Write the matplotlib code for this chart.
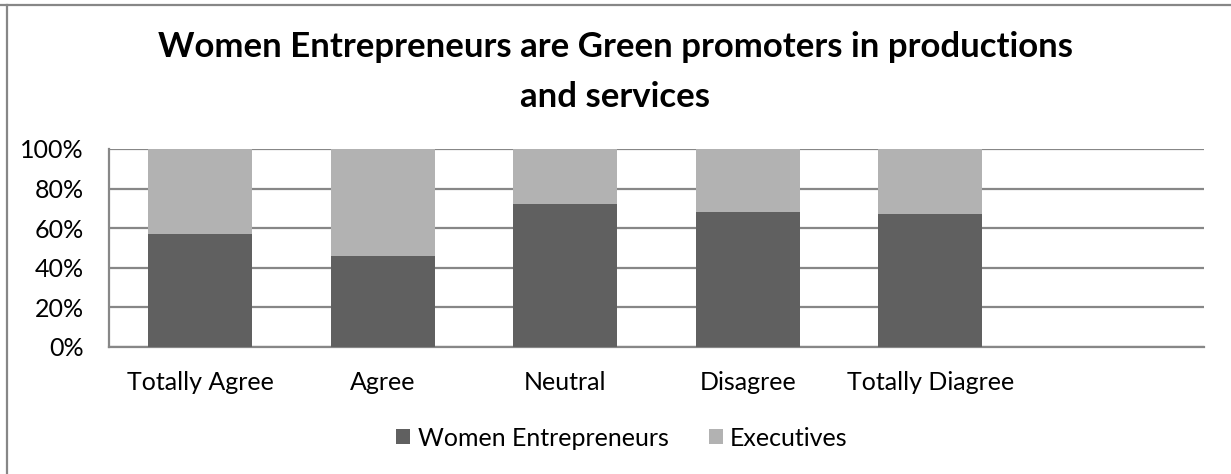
import matplotlib
matplotlib.use("Agg")
import matplotlib.pyplot as plt
from matplotlib.lines import Line2D
from matplotlib.patches import Patch

plt.rcParams['font.family'] = ['Lato', 'DejaVu Sans']

categories = ["Totally Agree", "Agree", "Neutral", "Disagree", "Totally Diagree", ""]
women_entrepreneurs = [57, 46, 72, 68, 67, None]
executives = [43, 54, 28, 32, 33, None]
tick_labels = ["0%", "20%", "40%", "60%", "80%", "100%"]

dark = "#606060"
light = "#b2b2b2"
grid_col = "#878787"

fig = plt.figure(figsize=(12.31, 4.74), dpi=100)
W, H = 1231, 474
ax = fig.add_axes([109 / W, 1 - 347 / H, (1204 - 109) / W, (347 - 149) / H])

xs = list(range(len(categories)))
bar_w = 0.57
for i in xs:
    if women_entrepreneurs[i] is None:
        continue
    total = women_entrepreneurs[i] + executives[i]
    w = women_entrepreneurs[i] / total * 100
    e = executives[i] / total * 100
    ax.bar(i, w, width=bar_w, color=dark, zorder=3)
    ax.bar(i, e, width=bar_w, bottom=w, color=light, zorder=3)

ax.set_xlim(-0.5, len(categories) - 0.5)
ax.set_ylim(0, 100)
ax.set_yticks(range(0, 101, 20))
ax.set_yticklabels(tick_labels, fontsize=18)
ax.set_xticks(xs)
ax.set_xticklabels(categories, fontsize=18)
ax.tick_params(axis='both', length=0, colors='black')
ax.tick_params(axis='y', pad=18)
ax.tick_params(axis='x', pad=17)

ax.yaxis.grid(True, color=grid_col, linewidth=1.6, zorder=1)
for side in ['top', 'right']:
    ax.spines[side].set_visible(False)
ax.spines['left'].set_color(grid_col)
ax.spines['left'].set_linewidth(1.6)
ax.spines['bottom'].set_color(grid_col)
ax.spines['bottom'].set_linewidth(1.6)

fig.text(0.5, 1 - 72 / H, "Women Entrepreneurs are Green promoters in productions\nand services",
         ha='center', va='center', fontsize=25, fontweight='bold', linespacing=1.69)

handles = [Patch(facecolor=dark, edgecolor='none'), Patch(facecolor=light, edgecolor='none')]
fig.legend(handles, ["Women Entrepreneurs", "Executives"], loc='center',
           bbox_to_anchor=(622 / W, 1 - 438 / H), ncol=2, frameon=False,
           fontsize=18, handlelength=0.56, handleheight=0.56, handletextpad=0.3,
           columnspacing=1.6)

# chart area border (top and left edges)
fig.add_artist(Line2D([0, 1], [1 - 5 / H, 1 - 5 / H], color=grid_col, linewidth=1.6,
                      transform=fig.transFigure))
fig.add_artist(Line2D([7 / W, 7 / W], [0, 1 - 5 / H], color=grid_col, linewidth=1.6,
                      transform=fig.transFigure))

fig.savefig("out.png", dpi=100)
